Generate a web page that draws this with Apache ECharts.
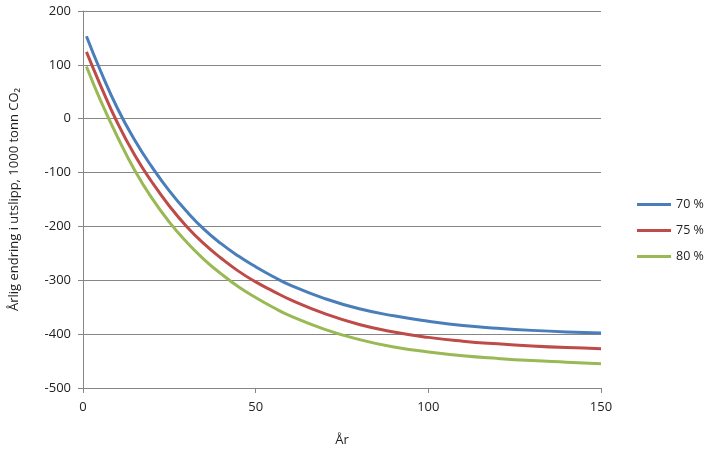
<!DOCTYPE html>
<html>
<head>
<meta charset="utf-8">
<script src="https://cdn.jsdelivr.net/npm/echarts@6/dist/echarts.min.js"></script>
<style>
  html, body { margin: 0; padding: 0; background: #fff; }
  #main { width: 706px; height: 456px; }
</style>
</head>
<body>
<div id="main"></div>
<script>
// år (x) og årlig endring for hver andel
var years = [1, 5, 10, 15, 20, 25, 30, 35, 40, 45, 50, 55, 60, 70, 80, 90, 100, 110, 120, 130, 140, 150];
var p70 = [153, 90, 19, -40, -90, -134, -172, -205, -232, -255, -275, -293, -309, -334, -353, -366, -376, -384, -389, -393, -396, -398];
var p75 = [124, 63, -8, -68, -118, -162, -200, -232, -259, -283, -303, -320, -336, -362, -382, -396, -406, -413, -418, -422, -425, -427];
var p80 = [97, 35, -34, -96, -148, -192, -229, -261, -288, -312, -332, -350, -366, -391, -410, -424, -433, -440, -445, -449, -452, -455];
var seriesNames = ['70 %', '75 %', '80 %'];
var xTicks = { min: 0, max: 150, interval: 50 };
var yTicks = { min: -500, max: 200, interval: 100 };

function pairs(vals) {
    return years.map(function (y, i) { return [y, vals[i]]; });
}

var myChart = echarts.init(document.getElementById('main'));
var font = '"Open Sans", "DejaVu Sans", sans-serif';
var colors = ['#4A7EBB', '#BE4B48', '#98B954'];

var option = {
    animation: false,
    textStyle: { fontFamily: font },
    color: colors,
    grid: { left: 79, right: 105, top: 11, bottom: 68 },
    legend: {
        orient: 'vertical',
        left: 637,
        top: 198,
        padding: 0,
        itemWidth: 34,
        itemHeight: 3,
        itemGap: 13,
        icon: 'rect',
        textStyle: { fontSize: 12.5, color: '#222', fontFamily: font },
        data: seriesNames
    },
    xAxis: {
        type: 'value',
        min: xTicks.min,
        max: xTicks.max,
        interval: xTicks.interval,
        name: 'År',
        nameLocation: 'middle',
        nameGap: 46,
        nameTextStyle: { fontSize: 13, color: '#222' },
        axisLine: { onZero: false, lineStyle: { color: '#868686' } },
        axisTick: { show: true, length: 5, lineStyle: { color: '#868686' } },
        axisLabel: { fontSize: 13, color: '#222', margin: 13 },
        splitLine: { show: false }
    },
    yAxis: {
        type: 'value',
        min: yTicks.min,
        max: yTicks.max,
        interval: yTicks.interval,
        name: 'Årlig endring i utslipp, 1000 tonn CO₂',
        nameLocation: 'middle',
        nameGap: 62,
        nameTextStyle: { fontSize: 13, color: '#222' },
        axisLine: { show: true, lineStyle: { color: '#868686' } },
        axisTick: { show: true, length: 5, lineStyle: { color: '#868686' } },
        axisLabel: { fontSize: 13, color: '#222', margin: 12 },
        splitLine: { show: true, lineStyle: { color: '#868686', width: 1 } }
    },
    series: [p70, p75, p80].map(function (vals, i) {
        return {
            name: seriesNames[i],
            type: 'line',
            smooth: true,
            showSymbol: false,
            lineStyle: { width: 3, color: colors[i] },
            data: pairs(vals)
        };
    })
};
myChart.setOption(option);
</script>
</body>
</html>
